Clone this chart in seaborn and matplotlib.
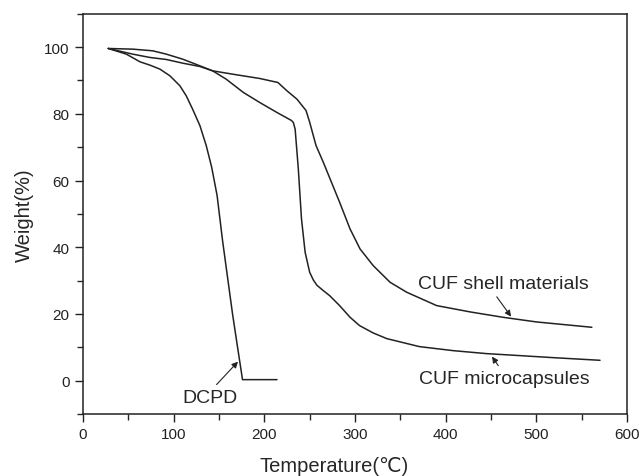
import pandas as pd
import matplotlib
matplotlib.use("Agg")
import matplotlib.pyplot as plt
import seaborn as sns
from matplotlib.ticker import MultipleLocator

# TGA curves
dcpd_temp = [28, 48, 63, 74, 85, 96, 107, 114, 121, 129, 136, 142, 148, 154, 160,
             165, 170, 176, 190, 214]
dcpd_weight = [99.6, 97.9, 95.6, 94.6, 93.4, 91.4, 88.4, 85.4, 81.4, 76.5, 70.5, 64,
               55.5, 42, 30, 20, 11, 0.3, 0.3, 0.3]

micro_temp = [28, 55, 77, 92, 110, 129, 143, 158, 177, 195, 214, 230, 232, 234, 237.5,
              241, 245, 250, 254, 258, 265, 272, 283, 294.5, 305, 320, 335, 371, 408,
              445, 482, 518, 570]
micro_weight = [99.6, 99.4, 98.9, 97.9, 96.4, 94.4, 92.9, 90.4, 86.4, 83.4, 80.4, 78,
                77.4, 75.4, 63.5, 48.5, 38.5, 32.5, 30.2, 28.6, 27, 25.5, 22.5, 19,
                16.5, 14.3, 12.6, 10.2, 9.0, 8.1, 7.5, 6.9, 6.1]

shell_temp = [28, 55, 74, 92, 110, 129, 143, 165, 195, 215, 225, 236, 246, 250, 257,
              265, 283, 294.5, 305.5, 320, 338.6, 357, 390, 427, 463, 500, 561]
shell_weight = [99.6, 97.9, 96.9, 96.3, 95.2, 94.2, 92.9, 91.9, 90.6, 89.4, 86.9, 84.4,
                81, 77.5, 70.5, 65.5, 53.5, 45.5, 39.5, 34.5, 29.5, 26.5, 22.5, 20.6,
                19.0, 17.6, 16.0]

labels = ["DCPD", "CUF microcapsules", "CUF shell materials"]

sns.set_style("ticks")
plt.rcParams["font.family"] = ["Liberation Sans", "DejaVu Sans"]

fig = plt.figure(figsize=(6.42, 4.77), dpi=100)
ax = fig.add_axes([0.129, 0.130, 0.848, 0.839])

for t, w in [(dcpd_temp, dcpd_weight), (micro_temp, micro_weight), (shell_temp, shell_weight)]:
    sns.lineplot(x=t, y=w, ax=ax, color="#222222", linewidth=1.1, sort=False)

ax.set_xlim(0, 600)
ax.set_ylim(-10, 110)
ax.xaxis.set_major_locator(MultipleLocator(100))
ax.xaxis.set_minor_locator(MultipleLocator(50))
ax.yaxis.set_minor_locator(MultipleLocator(10))
ax.set_yticks([0, 20, 40, 60, 80, 100])
ax.tick_params(which="major", direction="out", length=6, width=1, labelsize=11, colors="#222222")
ax.tick_params(which="minor", direction="out", length=4, width=1)
for s in ax.spines.values():
    s.set_linewidth(1.1)
    s.set_color("#222222")

# the x label sits a bit left of the axis centre in the original
ax.set_xlabel("Temperature(℃)", fontsize=14.5, labelpad=11, x=0.461)
ax.set_ylabel("Weight(%)", fontsize=14.5, labelpad=7)


def arrow(relpos):
    return dict(arrowstyle="-|>", color="#222222", lw=0.8, mutation_scale=9,
                relpos=relpos, shrinkA=1, shrinkB=0)


ax.annotate(labels[0], xy=(171, 5.7), xytext=(140, -5), ha="center", va="center",
            fontsize=14, arrowprops=arrow((0.55, 1.0)))
ax.annotate(labels[1], xy=(451, 7.2), xytext=(465, 0.6), ha="center", va="center",
            fontsize=14, arrowprops=arrow((0.48, 1.0)))
ax.annotate(labels[2], xy=(472, 19.2), xytext=(464, 29), ha="center", va="center",
            fontsize=14, arrowprops=arrow((0.44, 0.0)))

fig.savefig("out.png", dpi=100)
